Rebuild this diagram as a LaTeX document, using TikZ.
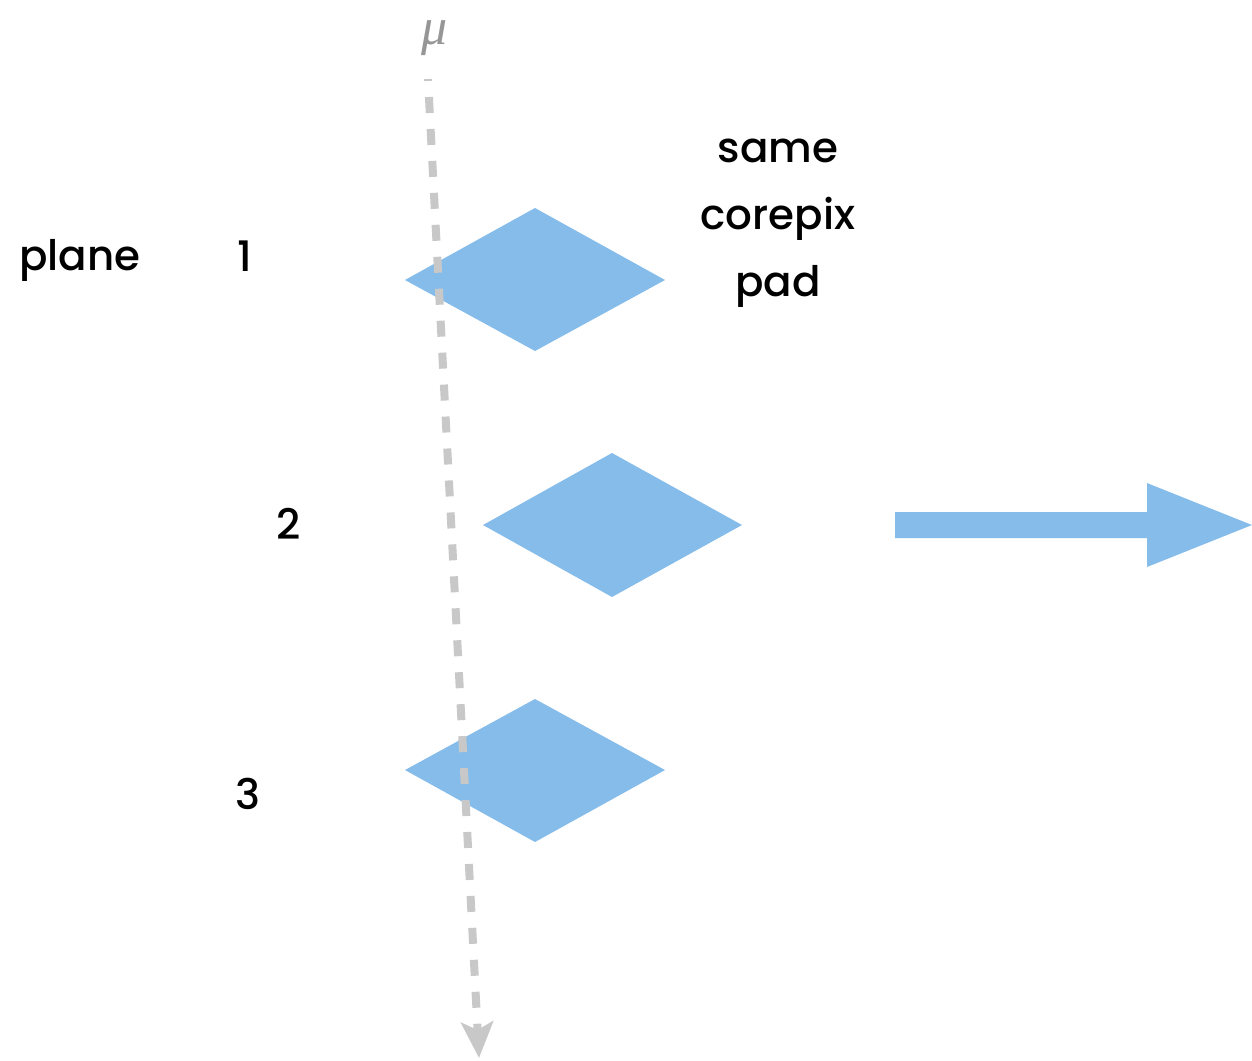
\documentclass[tikz,border=0pt]{standalone}
\usepackage{fontspec}
\setmainfont{Poppins}[UprightFont=* Medium]
\newfontfamily\mufont{Liberation Serif}
\usetikzlibrary{arrows.meta}
\definecolor{padblue}{RGB}{133,188,234}
\definecolor{trackgray}{RGB}{200,200,200}
\definecolor{mugray}{RGB}{150,150,150}
\tikzset{
  pad/.style={fill=padblue, draw=none},
  lbl/.style={font=\fontsize{42}{67}\selectfont, text=black, inner sep=0pt, align=center},
  track/.style={draw=trackgray, line width=8pt, dash pattern=on 16pt off 16pt, dash phase=14pt,
    -{Stealth[width=32pt,length=36pt,inset=8pt]}}
}
\begin{document}
\begin{tikzpicture}[x=1pt,y=-1pt]
\useasboundingbox (0,0) rectangle (1252,1060);
% pads on the three planes
\fill[pad] (405,280) -- (535,208) -- (665,280) -- (535,351) -- cycle;
\fill[pad] (483,525) -- (612,453) -- (742,525) -- (612,597) -- cycle;
\fill[pad] (405,770) -- (535,699) -- (665,770) -- (535,842) -- cycle;
% muon track
\coordinate (mtop) at (428,79);
\coordinate (mbot) at (479,1058);
\draw[track] (mtop) -- (mbot);
\node[text=mugray, font=\mufont\itshape\fontsize{52}{52}\selectfont, inner sep=0pt] (mu) at (435,38) {μ};
% labels
\node[lbl] (plane) at (80,260) {plane};
\node[lbl] (n1) at (245,256) {1};
\node[lbl] (n2) at (289,524) {2};
\node[lbl] (n3) at (248,794) {3};
\node[lbl] (same) at (778,223) {same\\corepix\\pad};
% big arrow
\fill[pad] (895,512) -- (1147,512) -- (1147,483) -- (1252,525) -- (1147,567) -- (1147,538) -- (895,538) -- cycle;
\end{tikzpicture}
\end{document}
